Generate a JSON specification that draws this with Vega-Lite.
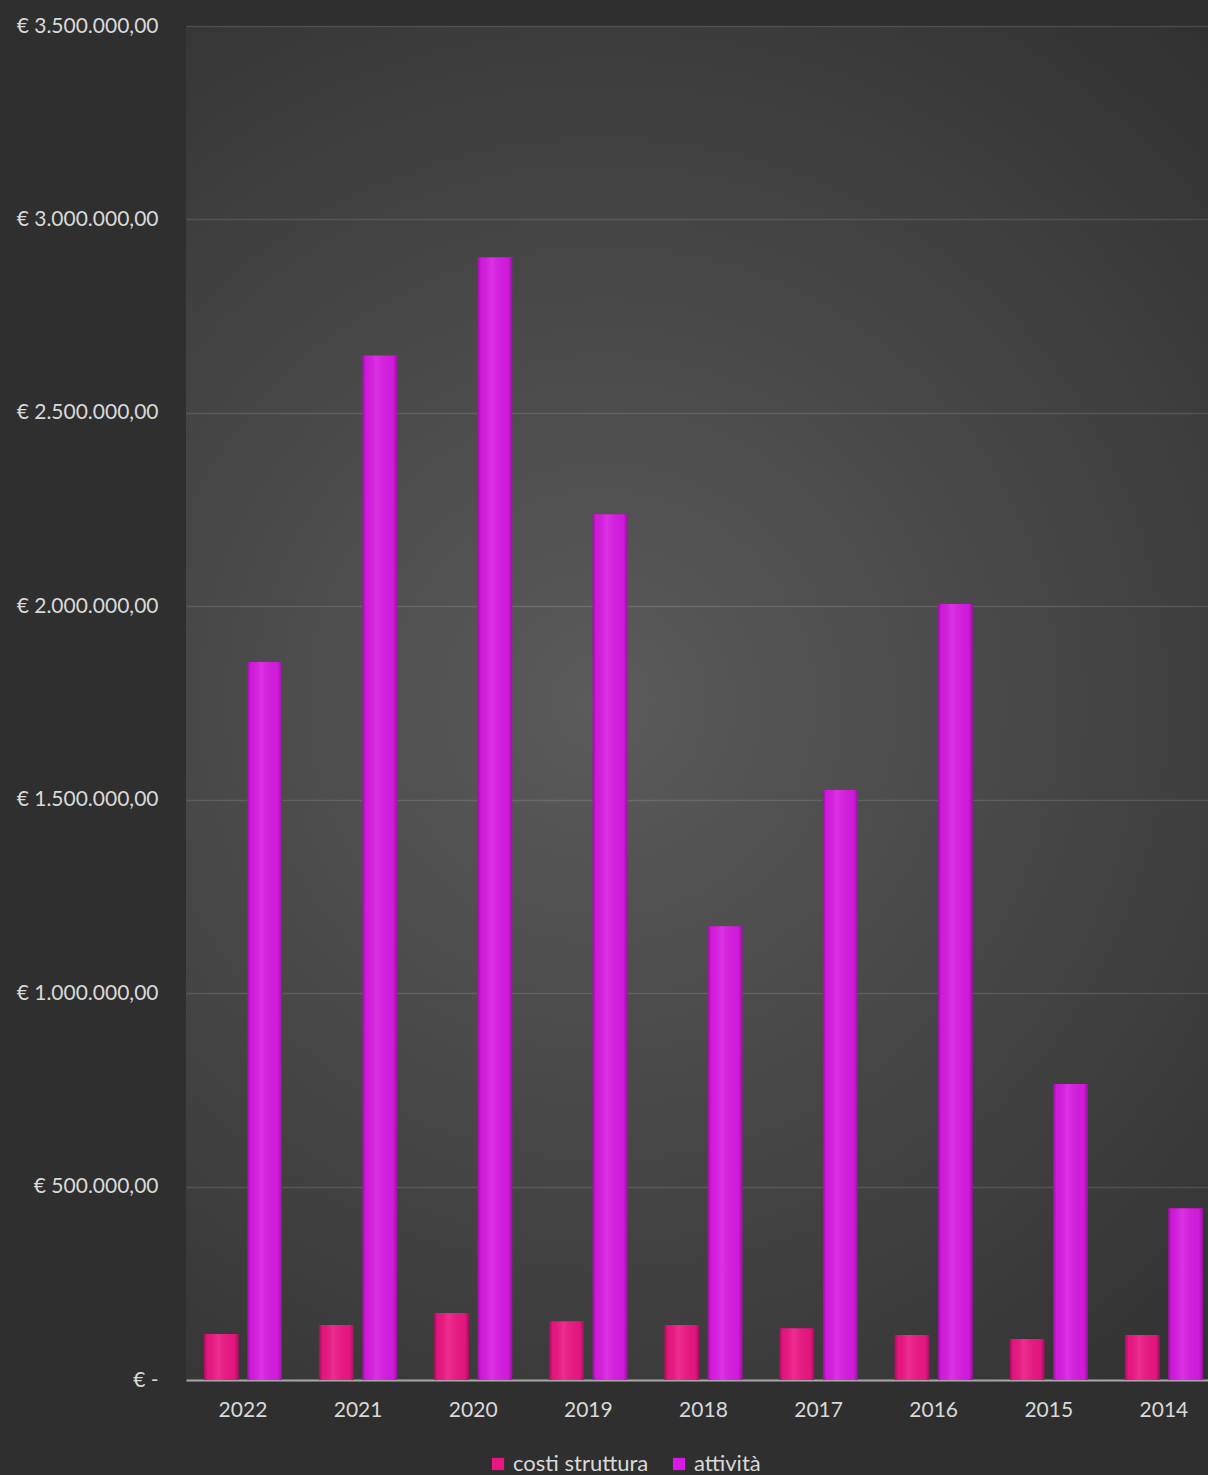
{
  "$schema": "https://vega.github.io/schema/vega-lite/v6.json",
  "width": 1022,
  "height": 1354,
  "autosize": {"type": "none"},
  "padding": {"left": 186, "top": 26, "right": 0, "bottom": 95},
  "background": "#2f2f2f",
  "config": {
    "locale": {"number": {"decimal": ",", "thousands": ".", "grouping": [3], "currency": ["€ ", ""]}},
    "view": {
      "stroke": null,
      "fill": {
        "gradient": "radial",
        "x1": 0.43, "y1": 0.5, "r1": 0,
        "x2": 0.43, "y2": 0.5, "r2": 0.72,
        "stops": [
          {"offset": 0, "color": "#5b5b5b"},
          {"offset": 1, "color": "#2e2e2e"}
        ]
      }
    },
    "font": "Lato"
  },
  "data": {
    "values": [
      {"anno": "2022", "serie": "costi struttura", "valore": 119000},
      {"anno": "2022", "serie": "attività", "valore": 1856000},
      {"anno": "2021", "serie": "costi struttura", "valore": 142000},
      {"anno": "2021", "serie": "attività", "valore": 2648000},
      {"anno": "2020", "serie": "costi struttura", "valore": 173000},
      {"anno": "2020", "serie": "attività", "valore": 2902000},
      {"anno": "2019", "serie": "costi struttura", "valore": 152000},
      {"anno": "2019", "serie": "attività", "valore": 2238000},
      {"anno": "2018", "serie": "costi struttura", "valore": 142000},
      {"anno": "2018", "serie": "attività", "valore": 1173000},
      {"anno": "2017", "serie": "costi struttura", "valore": 134000},
      {"anno": "2017", "serie": "attività", "valore": 1525000},
      {"anno": "2016", "serie": "costi struttura", "valore": 116000},
      {"anno": "2016", "serie": "attività", "valore": 2006000},
      {"anno": "2015", "serie": "costi struttura", "valore": 106000},
      {"anno": "2015", "serie": "attività", "valore": 765000},
      {"anno": "2014", "serie": "costi struttura", "valore": 116000},
      {"anno": "2014", "serie": "attività", "valore": 444000}
    ]
  },
  "encoding": {
    "x": {
      "field": "anno", "type": "nominal", "sort": null,
      "scale": {"paddingInner": 0.322, "paddingOuter": 0.1, "align": 0.78},
      "axis": {
        "title": null, "ticks": false, "domain": true, "domainColor": "#a6a6a6", "domainWidth": 2,
        "labelPadding": 19, "labelFontSize": 21, "labelAngle": 0, "labelColor": "#d9d9d9", "grid": false
      }
    },
    "y": {
      "field": "valore", "type": "quantitative",
      "scale": {"domain": [0, 3500000], "nice": false},
      "axis": {
        "title": null, "domain": false, "ticks": false, "labelPadding": 28,
        "labelFontSize": 21, "labelColor": "#d9d9d9",
        "values": [0, 500000, 1000000, 1500000, 2000000, 2500000, 3000000, 3500000],
        "format": ",.2f",
        "labelExpr": "datum.value == 0 ? '€ -' : '€ ' + datum.label",
        "grid": true, "gridColor": "#ffffff", "gridOpacity": 0.12, "gridWidth": 1.5
      }
    },
    "xOffset": {
      "field": "serie", "type": "nominal", "sort": ["costi struttura", "attività"],
      "scale": {"paddingInner": 0.2}
    }
  },
  "layer": [
    {
      "mark": {"type": "bar"},
      "encoding": {
        "color": {
          "field": "serie", "type": "nominal",
          "scale": {"domain": ["costi struttura", "attività"], "range": ["#ec1683", "#d81be2"]},
          "legend": {
            "title": null, "orient": "none", "direction": "horizontal",
            "legendX": 301, "legendY": 1427,
            "symbolType": "square", "symbolSize": 150, "symbolStrokeWidth": 0,
            "labelFontSize": 22, "labelColor": "#d9d9d9", "columnPadding": 19, "labelOffset": 4
          }
        }
      }
    },
    {
      "mark": {
        "type": "bar",
        "fill": {
          "gradient": "linear", "x1": 0, "y1": 0, "x2": 1, "y2": 0,
          "stops": [
            {"offset": 0, "color": "rgba(0,0,0,0.3)"},
            {"offset": 0.1, "color": "rgba(0,0,0,0.03)"},
            {"offset": 0.4, "color": "rgba(255,255,255,0.1)"},
            {"offset": 0.88, "color": "rgba(0,0,0,0.03)"},
            {"offset": 1, "color": "rgba(0,0,0,0.3)"}
          ]
        }
      }
    }
  ]
}
